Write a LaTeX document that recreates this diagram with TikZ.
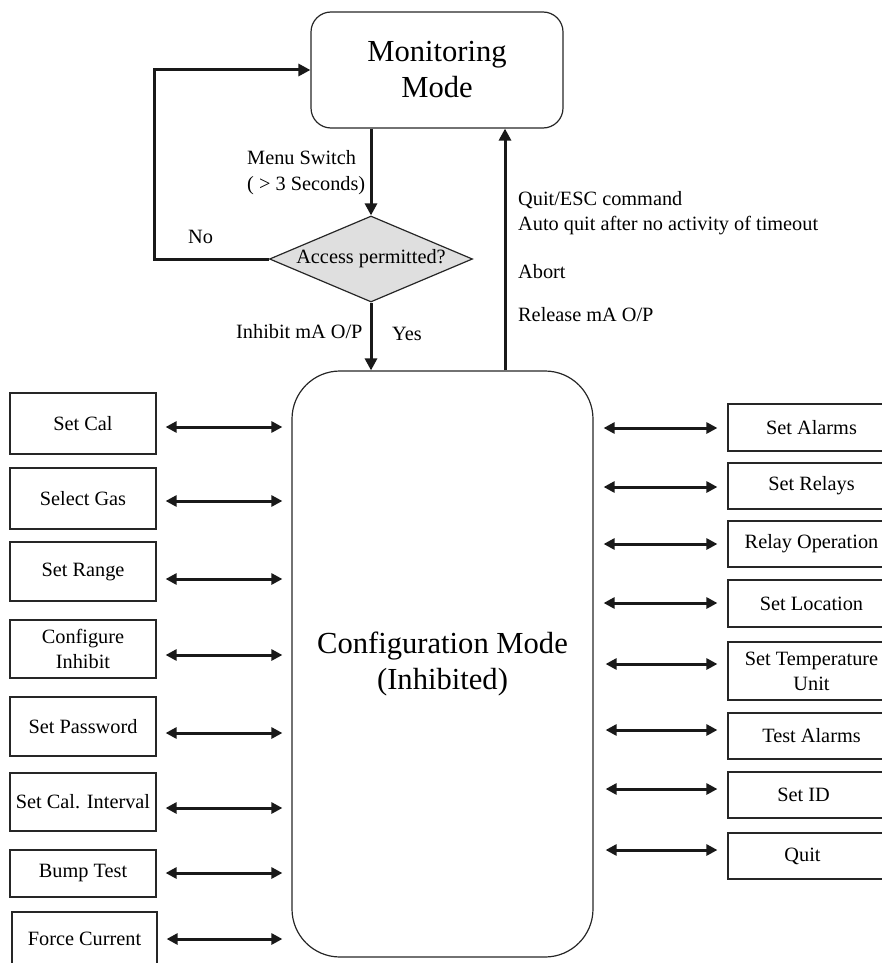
\documentclass[tikz,border=0pt]{standalone}
\usepackage{fontspec}
\setmainfont{Liberation Serif}
\usetikzlibrary{arrows.meta,shapes.geometric,calc}
\begin{document}
\begin{tikzpicture}[x=1pt,y=-1pt,
  box/.style={draw=black!85, line width=1.2pt, inner sep=0pt, align=center, font=\fontsize{20.3}{25}\selectfont},
  lbox/.style={box, minimum width=146pt},
  rbox/.style={box, minimum width=167pt},
  modebox/.style={draw=black!85, line width=1.2pt, inner sep=0pt, align=center, font=\fontsize{30.6}{36}\selectfont},
  lbl/.style={inner sep=0pt, anchor=base west, font=\fontsize{20.3}{25}\selectfont},
  arr/.style={line width=3pt, draw=black!90, -{Triangle[length=12pt,width=12pt]}},
  biarr/.style={line width=3pt, draw=black!90, {Triangle[length=11pt,width=11pt]}-{Triangle[length=11pt,width=11pt]}},
]
\useasboundingbox (0,0) rectangle (882,963);
\clip (0,0) rectangle (882,963);

% main nodes
\node[modebox, rounded corners=20pt, minimum width=252pt, minimum height=116pt] (monitor) at (437,70) {Monitoring\\Mode};
\node[diamond, draw=black!85, line width=1.2pt, fill=gray!25, aspect=2.36, inner sep=0pt,
      minimum width=203pt, minimum height=86pt, font=\fontsize{20.3}{25}\selectfont] (access) at (371,259) {Access permitted?};
\node[modebox, rounded corners=48pt, minimum width=301pt, minimum height=586pt] (config) at (442.5,664) {Configuration Mode\\(Inhibited)};

% flow connectors
\draw[arr] (access.north |- monitor.south) -- (access.north);
\draw[arr] (access.south) -- (access.south |- config.north);
\coordinate (loopc) at (154,70);
\draw[arr] (access.west) -| (loopc) -- (monitor.west);
\draw[arr] ($(config.north)+(62.5,0)$) -- ($(monitor.south)+(68,0)$);

% labels
\node[lbl] (l1) at (247,164) {Menu Switch};
\node[lbl] (l2) at (247,190) {( > 3 Seconds)};
\node[lbl] (l3) at (188,243.5) {No};
\node[lbl] (l4) at (236,338.5) {Inhibit mA O/P};
\node[lbl] (l5) at (392,340) {Yes};
\node[lbl] (l6) at (518,205) {Quit/ESC command};
\node[lbl] (l7) at (518,230) {Auto quit after no activity of timeout};
\node[lbl] (l8) at (518,278) {Abort};
\node[lbl] (l9) at (518,321) {Release mA O/P};

% left boxes
\node[lbox, minimum height=61pt] (setcal) at (83,423.5) {Set Cal};
\node[lbox, minimum height=61pt] (selgas) at (83,498.5) {Select Gas};
\node[lbox, minimum height=59pt] (setrange) at (83,571.5) {Set Range};
\node[lbox, minimum height=58pt] (confinh) at (83,649) {Configure\\Inhibit};
\node[lbox, minimum height=59pt] (setpw) at (83,726.5) {Set Password};
\node[lbox, minimum height=58pt] (calint) at (83,802) {Set Cal. Interval};
\node[lbox, minimum height=47pt] (bump) at (83,873.5) {Bump Test};
\node[box, minimum width=145pt, minimum height=61pt] (force) at (84.5,942.5) {};
\node[inner sep=0pt, font=\fontsize{20.3}{25}\selectfont] (forcet) at (84.5,939) {Force Current};

\draw[biarr] ($(setcal.east)+(9,3.5)$) -- ($(setcal.east -| config.west)+(-9,3.5)$);
\draw[biarr] ($(selgas.east)+(9,2.5)$) -- ($(selgas.east -| config.west)+(-9,2.5)$);
\draw[biarr] ($(setrange.east)+(9,7.5)$) -- ($(setrange.east -| config.west)+(-9,7.5)$);
\draw[biarr] ($(confinh.east)+(9,6)$) -- ($(confinh.east -| config.west)+(-9,6)$);
\draw[biarr] ($(setpw.east)+(9,6.5)$) -- ($(setpw.east -| config.west)+(-9,6.5)$);
\draw[biarr] ($(calint.east)+(9,6)$) -- ($(calint.east -| config.west)+(-9,6)$);
\draw[biarr] ($(bump.east)+(9,-0.5)$) -- ($(bump.east -| config.west)+(-9,-0.5)$);
\draw[biarr] ($(force.east)+(9,-3.5)$) -- ($(force.east -| config.west)+(-9,-3.5)$);

% right boxes
\node[rbox, minimum height=47pt] (alarms) at (811.5,427.5) {Set Alarms};
\node[rbox, minimum height=46pt] (relays) at (811.5,486) {Set Relays};
\node[rbox, minimum height=46pt] (relayop) at (811.5,544) {Relay Operation};
\node[rbox, minimum height=47pt] (location) at (811.5,603.5) {Set Location};
\node[rbox, minimum height=58pt] (tempunit) at (811.5,671) {Set Temperature\\Unit};
\node[rbox, minimum height=46pt] (testal) at (811.5,736) {Test Alarms};
\node[rbox, minimum height=46pt] (setid) at (811.5,795) {Set ID\hspace{16pt}};
\node[rbox, minimum height=46pt] (quit) at (811.5,856) {Quit\hspace{18pt}};

\draw[biarr] ($(alarms.west -| config.east)+(10,0.5)$) -- ($(alarms.west)+(-10,0.5)$);
\draw[biarr] ($(relays.west -| config.east)+(10,1)$) -- ($(relays.west)+(-10,1)$);
\draw[biarr] ($(relayop.west -| config.east)+(10,0)$) -- ($(relayop.west)+(-10,0)$);
\draw[biarr] ($(location.west -| config.east)+(10,-0.5)$) -- ($(location.west)+(-10,-0.5)$);
\draw[biarr] ($(tempunit.west -| config.east)+(12,-7)$) -- ($(tempunit.west)+(-10,-7)$);
\draw[biarr] ($(testal.west -| config.east)+(12,-6)$) -- ($(testal.west)+(-10,-6)$);
\draw[biarr] ($(setid.west -| config.east)+(12,-6)$) -- ($(setid.west)+(-10,-6)$);
\draw[biarr] ($(quit.west -| config.east)+(12,-6)$) -- ($(quit.west)+(-10,-6)$);
\end{tikzpicture}
\end{document}
